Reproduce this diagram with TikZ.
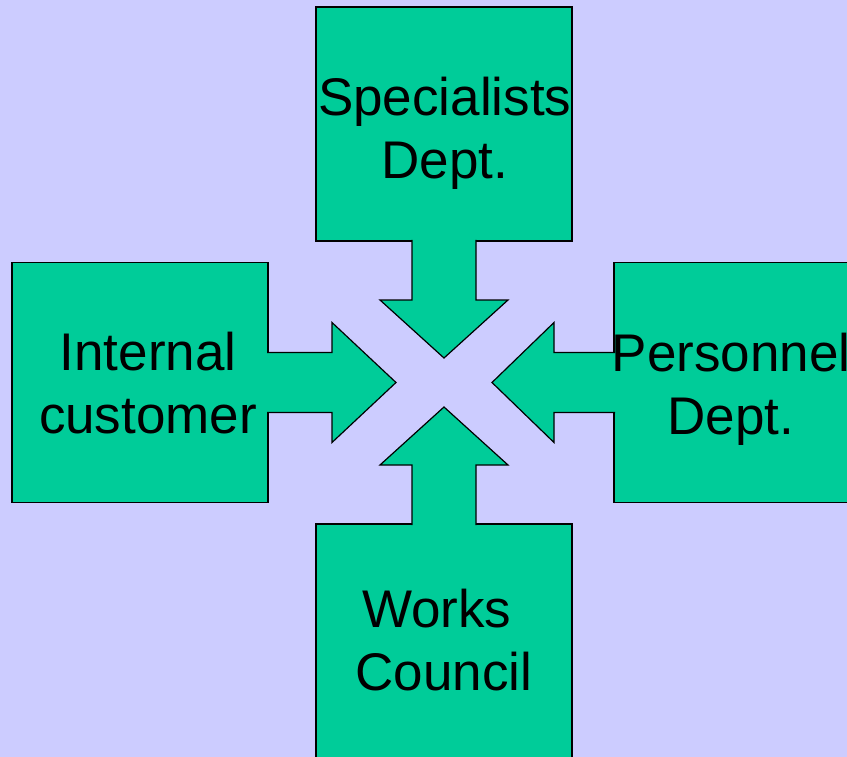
\documentclass[tikz,border=0pt]{standalone}
\usepackage{fontspec}
\setmainfont{Liberation Sans}
\usepackage{tikz}
\pgfdeclarelayer{bg}
\pgfsetlayers{bg,main}
\definecolor{lavender}{HTML}{CCCCFF}
\definecolor{boxgreen}{HTML}{00CC99}
\tikzset{
  box/.style={rectangle, draw=black, fill=boxgreen, line width=1.2pt, inner sep=0pt, outer sep=0pt, minimum width=256pt},
  arr/.style={draw=black, fill=boxgreen, line width=1.2pt, line join=miter},
  lbl/.style={align=center, inner sep=0pt, font=\fontsize{53}{63}\selectfont}
}

\begin{document}
\begin{tikzpicture}[x=1pt, y=-1pt]
        \useasboundingbox (0,0) rectangle (847,757);
        \clip (0,0) rectangle (847,757);
        \begin{pgfonlayer}{bg}
                \fill [lavender] (0,0) rectangle (847,757);
        \end{pgfonlayer}
        \node (b0) [box, minimum height=234pt] at (444,124) {};
        \node (b1) [box, minimum height=240pt] at (140,382.5) {};
        \node (b2) [box, minimum height=240pt] at (742,382.5) {};
        \node (b3) [box, minimum height=234pt] at (444,641) {};
        \node (t0) [lbl, anchor=base] at (444.7,179) {Specialists\\Dept.};
        \node (t1) [lbl, anchor=base] at (148,433) {Internal\\customer};
        \node (t2) [lbl, anchor=base] at (731,434) {Personnel\\Dept.};
        \node (t3) [lbl, anchor=base] at (444,690) {Works\hspace*{0.278em}\\Council};
        \path [arr] ([xshift=-32pt,yshift=1pt]b0.south) -- ++(0,60) -- ++(-32,0) -- ++(64,58)
                -- ++(64,-58) -- ++(-32,0) -- ++(0,-60);
        \path [arr] ([xshift=-32pt,yshift=-1pt]b3.north) -- ++(0,-60) -- ++(-32,0) -- ++(64,-58)
                -- ++(64,58) -- ++(-32,0) -- ++(0,60);
        \path [arr] ([xshift=-1pt,yshift=30pt]b1.east) -- ++(65,0) -- ++(0,-30) -- ++(64,60)
                -- ++(-64,60) -- ++(0,-30) -- ++(-65,0);
        \path [arr] ([xshift=1pt,yshift=30pt]b2.west) -- ++(-61,0) -- ++(0,-30) -- ++(-62,60)
                -- ++(62,60) -- ++(0,-30) -- ++(61,0);
\end{tikzpicture}
\end{document}
